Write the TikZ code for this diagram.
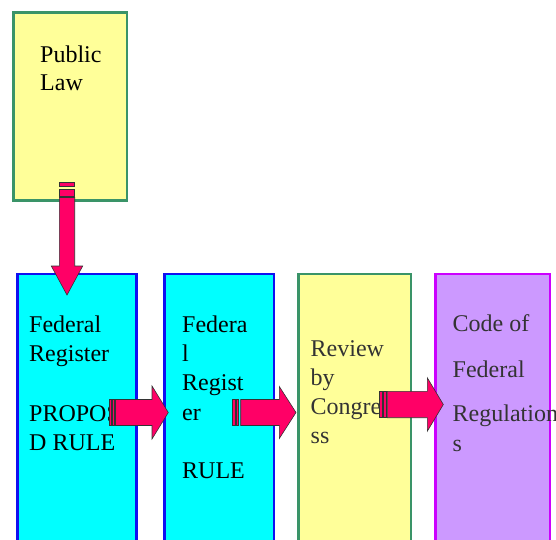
\documentclass[tikz,border=0pt]{standalone}
\usepackage{fontspec}
\setmainfont{Liberation Serif}
\definecolor{lawfill}{HTML}{FFFF99}
\definecolor{greenline}{HTML}{3A9468}
\definecolor{cyanfill}{HTML}{00FFFF}
\definecolor{blueline}{HTML}{1010F0}
\definecolor{purplefill}{HTML}{CC99FF}
\definecolor{magline}{HTML}{CC00FF}
\definecolor{arrowred}{HTML}{FF0066}
\begin{document}
\begin{tikzpicture}[x=1pt,y=-1pt,
  boxbase/.style={anchor=north west, inner sep=0pt, line width=2.5pt},
  ybox/.style={boxbase, fill=lawfill, draw=greenline},
  cbox/.style={boxbase, fill=cyanfill, draw=blueline},
  pbox/.style={boxbase, fill=purplefill, draw=magline},
  txt/.style={anchor=base west, inner sep=0pt, font=\fontsize{24}{29}\selectfont},
  gtxt/.style={txt, text=black!80},
  arr/.style={fill=arrowred, draw=black!80, line width=0.6pt, line join=miter}]
\useasboundingbox (0,0) rectangle (556,539);
\clip (0,0) rectangle (556,539);
% boxes
\node[ybox, minimum width=113.5pt, minimum height=188pt] (law) at (12,11) {};
\node[cbox, minimum width=119pt, minimum height=300pt] (fr1) at (16,272.5) {};
\node[cbox, minimum width=109.5pt, minimum height=300pt] (fr2) at (163,272.5) {};
\node[ybox, minimum width=112.5pt, minimum height=300pt] (rev) at (297,272.5) {};
\node[pbox, minimum width=114.5pt, minimum height=300pt] (cfr) at (434,272.5) {};
% texts
\node[txt] (t1) at (40,62.7) {Public};
\node[txt] (t2) at (40,90.7) {Law};
\node[txt] (t3) at (29,332.7) {Federal};
\node[txt] (t4) at (29,361.7) {Register};
\node[txt] (t5) at (29,421.7) {PROPOSE};
\node[txt] (t6) at (29,450.5) {D RULE};
\node[txt] (t7) at (182,332.7) {Federa};
\node[txt] (t8) at (182,361.7) {l};
\node[txt] (t9) at (182,390.7) {Regist};
\node[txt] (t10) at (182,420.3) {er};
\node[txt] (t11) at (182,478.3) {RULE};
\node[gtxt] (t12) at (310.5,356.7) {Review};
\node[gtxt] (t13) at (310.5,385.3) {by};
\node[gtxt] (t14) at (310.5,414.3) {Congre};
\node[gtxt] (t15) at (310.5,443.3) {ss};
\node[gtxt] (t16) at (452.5,331) {Code of};
\node[gtxt] (t17) at (452.5,377.3) {Federal};
\node[gtxt] (t18) at (452.5,421.7) {Regulation};
\node[gtxt] (t19) at (452.5,451.7) {s};
% arrow anchor points
\coordinate (d0) at (67,182.7);
\coordinate (a1) at (109,412.5);
\coordinate (a2) at (232.7,412.5);
\coordinate (a3) at (379.3,404.5);
% down arrow from Public Law to Federal Register
\begin{scope}[shift={(d0)}]
  \draw[arr] (-7.7,0) rectangle (7.7,3.3);
  \draw[arr] (-7.7,6.6) rectangle (7.7,13.3);
  \draw[arr] (-7.7,14.8) -- (7.7,14.8) -- (7.7,83.3) -- (15.7,83.3) -- (0,112.3)
    -- (-15.7,83.3) -- (-7.7,83.3) -- cycle;
\end{scope}
% right arrow 1
\begin{scope}[shift={(a1)}]
  \draw[arr] (0,-13) rectangle (2,13);
  \draw[arr] (3,-13) rectangle (5.3,13);
  \draw[arr] (6.5,-13) -- (43,-13) -- (43,-26.5) -- (59.3,0) -- (43,26.5)
    -- (43,13) -- (6.5,13) -- cycle;
\end{scope}
% right arrow 2
\begin{scope}[shift={(a2)}]
  \draw[arr] (0,-13) rectangle (2.6,13);
  \draw[arr] (3.3,-13) rectangle (6,13);
  \draw[arr] (8,-13) -- (46.6,-13) -- (46.6,-26) -- (63.3,0) -- (46.6,26)
    -- (46.6,13) -- (8,13) -- cycle;
\end{scope}
% right arrow 3
\begin{scope}[shift={(a3)}]
  \draw[arr] (0,-13.2) rectangle (2.7,13.2);
  \draw[arr] (4,-13.2) rectangle (7.4,13.2);
  \draw[arr] (8,-13.2) -- (48,-13.2) -- (48,-26.7) -- (64,0) -- (48,26.7)
    -- (48,13.2) -- (8,13.2) -- cycle;
\end{scope}
\end{tikzpicture}
\end{document}
